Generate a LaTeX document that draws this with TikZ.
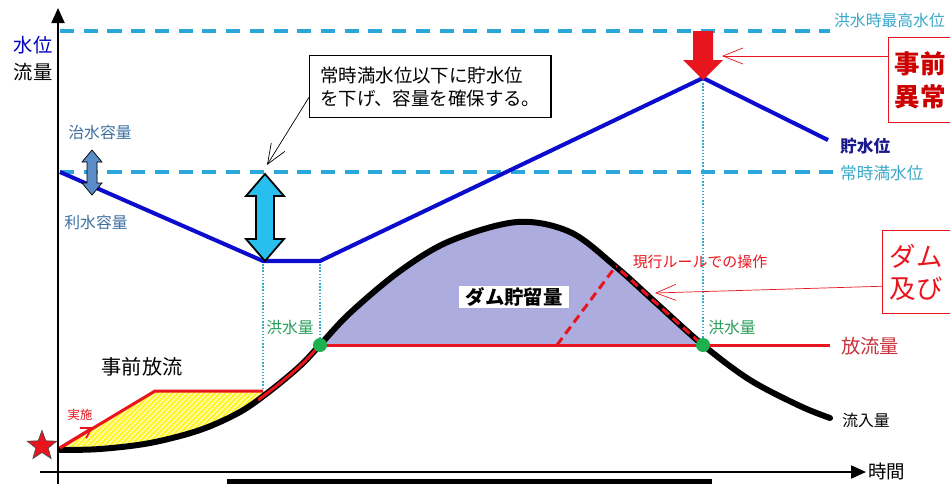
\documentclass[tikz,border=0pt]{standalone}
\usepackage{fontspec}
\setmainfont{Noto Sans CJK JP}
\usetikzlibrary{positioning, arrows.meta, patterns, shapes.geometric}

\definecolor{dashcyan}{RGB}{43,166,217}
\definecolor{labcyan}{RGB}{58,168,200}
\definecolor{lvlblue}{RGB}{12,12,205}
\definecolor{navy}{RGB}{26,26,140}
\definecolor{steel}{RGB}{61,111,160}
\definecolor{capblue}{RGB}{90,140,200}
\definecolor{floodgreen}{RGB}{29,176,78}
\definecolor{labgreen}{RGB}{40,158,90}
\definecolor{outred}{RGB}{232,20,30}
\definecolor{labred}{RGB}{200,50,60}
\definecolor{storage}{RGB}{172,172,222}
\definecolor{bigcyan}{RGB}{40,190,238}

% inflow hydrograph, used for the line and the fills
\newcommand\inflowpath{plot[smooth,tension=0.55] coordinates {(60,450) (100,449) (150,443) (200,430) (240,412) (270,391) (300,366) (320,345) (350,313) (400,271) (450,241) (517,222) (570,232) (615,266) (655,302) (703,345) (750,380) (800,406) (830,418)}}

\begin{document}
\begin{tikzpicture}[x=0.2mm,y=-0.2mm,
        jp/.style={% plain labels
            inner sep=1pt,
            font=\fontsize{9}{11}\selectfont,
            },
        limit/.style={% dashed reference levels
            dashcyan,
            line width=1.8pt,
            dash pattern=on 8pt off 5.5pt,
            },
        guide/.style={% dotted verticals
            labcyan,
            densely dotted,
            line width=0.8pt,
            },
        level/.style={% reservoir water level
            lvlblue,
            line width=2.3pt,
            line join=round,
            },
        inflow/.style={% inflow curve
            black,
            line width=3.4pt,
            line cap=round,
            },
        outflow/.style={% outflow line
            outred,
            line width=1.7pt,
            line join=round,
            },
        callout/.style={% framed notes
            draw,
            thick,
            align=left,
            anchor=north west,
            },
        barb/.style={% open arrow heads
            -{Straight Barb[length=4mm,width=3.2mm]},
            },
        dot/.style={%flood points
            circle,
            fill=floodgreen,
            inner sep=0pt,
            minimum size=2.8mm,
            },
            ]
    \clip (0,0) rectangle (950,484);

    % fills
    \begin{scope}
        \clip (320,0) rectangle (703,345);
        \fill[storage] \inflowpath -- (830,484) -- (60,484) -- cycle;
    \end{scope}
    \begin{scope}
        \clip (60,448) -- (155,391) -- (263,391) -- (263,484) -- (60,484) -- cycle;
        \fill[yellow!80!white] \inflowpath -- (830,0) -- (60,0) -- cycle;
        \fill[pattern=north east lines, pattern color=white] \inflowpath -- (830,0) -- (60,0) -- cycle;
    \end{scope}

    % reference levels
    \draw[limit] (60,31) -- (830,31);
    \draw[limit] (60,172) -- (836,172);
    \node[jp, anchor=west, labcyan] (maxlbl) at (832,20) {洪水時最高水位};
    \node[jp, anchor=west, labcyan, font=\fontsize{9.5}{11}\selectfont] (normlbl) at (838,173) {常時満水位};

    % dotted verticals
    \draw[guide] (263,261) -- (263,390);
    \draw[guide] (320,261) -- (320,345);
    \draw[guide] (703,80) -- (703,345);

    % axes
    \draw[-{Triangle[length=3mm,width=2.6mm]}, line width=1.2pt] (58,484) -- (58,8);
    \draw[-{Triangle[length=3mm,width=2.6mm]}, line width=1.2pt] (40,472) -- (866,472);
    \node[jp, blue!75!black, font=\fontsize{11}{13}\selectfont] (wl) at (33,45) {水位};
    \node[jp, font=\fontsize{11}{13}\selectfont] (fl) at (33,72) {流量};
    \node[jp, anchor=west, font=\fontsize{10.5}{12}\selectfont] (tlbl) at (866,471) {時間};

    % water level
    \draw[level] (60,172) -- (263,261) -- (320,261) -- (703,78) -- (828,140);
    \node[jp, anchor=west, navy, font=\bfseries\fontsize{9.5}{11}\selectfont] (lvllbl) at (838,146) {貯水位};

    % inflow and outflow
    \draw[inflow] \inflowpath;
    \draw[outflow] (60,448) -- (155,391) -- (263,391);
    \begin{scope}
        \clip (258,330) rectangle (320,400);
        \draw[outflow] \inflowpath;
    \end{scope}
    \draw[outflow] (320,345) -- (830,345);
    \begin{scope}
        \clip (616,250) rectangle (703,350);
        \draw[outred, line width=1.7pt, dash pattern=on 5pt off 3pt] \inflowpath;
    \end{scope}
    \draw[outred, line width=1.7pt, dash pattern=on 5pt off 3pt] (557,345) -- (616,266);

    \node[dot] (f1) at (320,345) {};
    \node[dot] (f2) at (703,345) {};
    \node[jp, labgreen] (f1lbl) at (290,328) {洪水量};
    \node[jp, labgreen] (f2lbl) at (732,328) {洪水量};
    \node[jp, labred, font=\fontsize{11}{13}\selectfont] (outlbl) at (870,346) {放流量};
    \node[jp] (inlbl) at (866,420) {流入量};

    \node[jp, fill=white, inner xsep=4pt, font=\bfseries\fontsize{11}{13}\selectfont] (stor) at (514,297) {ダム貯留量};
    \node[jp, outred, font=\fontsize{8.5}{10}\selectfont] (rule) at (700,262) {現行ルールでの操作};

    % pre-release
    \node[jp, font=\fontsize{11.5}{13}\selectfont] (pre) at (142,367) {事前放流};
    \node[jp, outred, font=\fontsize{7}{8}\selectfont] (act) at (80,415) {実施};
    \coordinate (actS) at (60,447);
    \coordinate (actE) at (93,427);
    \draw[outred, line width=1pt, -{Straight Barb[length=2mm,width=2.4mm]}] (actS) -- (actE);
    \node[star, star points=5, star point ratio=2.4, fill=outred, draw=black!70, thin, minimum size=6.2mm, inner sep=0pt] (start) at (42,446) {};

    % capacity arrows
    \draw[fill=capblue, thin] (92,150) -- (102,162) -- (97,162) -- (97,183) -- (102,183) -- (92,195) -- (82,183) -- (87,183) -- (87,162) -- (82,162) -- cycle;
    \node[jp, steel] (floodcap) at (100,132) {治水容量};
    \node[jp, steel] (usecap) at (96,222) {利水容量};
    \draw[fill=bigcyan, line width=1pt] (265,174) -- (284,196) -- (274,196) -- (274,239) -- (284,239) -- (265,261) -- (246,239) -- (256,239) -- (256,196) -- (246,196) -- cycle;

    % notes
    \node[callout, text width=44mm, minimum height=12.4mm, inner xsep=6pt, font=\fontsize{10.5}{13}\selectfont] (note) at (309,55) {常時満水位以下に貯水位\\を下げ、容量を確保する。};
    \coordinate (noteT) at (267,165);
    \draw[thin, barb] (note.west) ++(0,-6pt) coordinate (noteS) -- (noteT);

    \node[callout, draw=outred, text=red!80!black, text width=30mm, minimum height=17mm, inner xsep=3.5pt, font=\bfseries\fontsize{14.5}{18.5}\selectfont] (warn) at (888,37) {事前\\異常};
    \coordinate (warnT) at (722,56);
    \draw[outred, thin, barb] (warn.west |- warnT) -- (warnT);
    \fill[outred] (693,31) -- (713,31) -- (713,60) -- (723,60) -- (703,80) -- (683,60) -- (693,60) -- cycle;

    \node[callout, draw=outred, text=outred, text width=30mm, minimum height=16.6mm, inner xsep=4pt, font=\fontsize{15}{18.5}\selectfont] (ops) at (882,230) {ダム\\及び};
    \coordinate (opsT) at (655,293);
    \draw[outred, thin, barb] (ops.west) ++(0,-8pt) coordinate (opsS) -- (opsT);

    % bottom bar
    \fill (227,479) rectangle (712,484);
\end{tikzpicture}
\end{document}
